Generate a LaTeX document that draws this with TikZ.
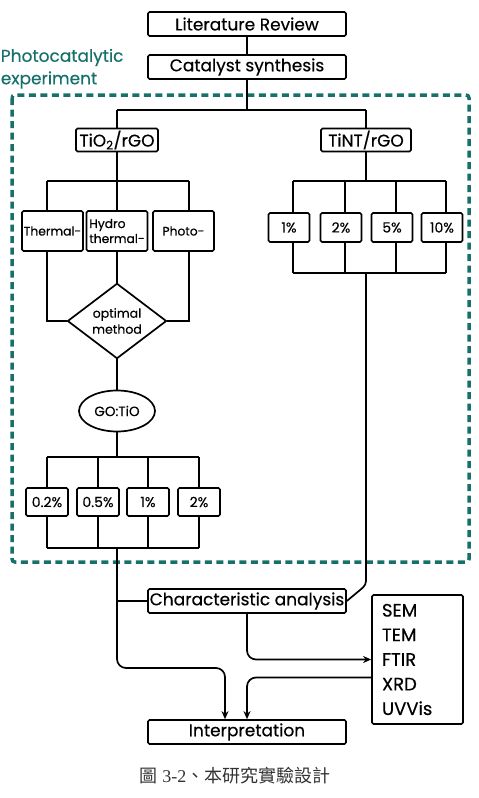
\documentclass[tikz,border=0pt]{standalone}
\usepackage{fontspec}
\setmainfont{Poppins}[FakeBold=0.4]
\newfontfamily\cjk{Noto Sans CJK TC}
\newfontfamily\capfont{Liberation Serif}
\usetikzlibrary{shapes.geometric, arrows.meta}
\definecolor{pcteal}{HTML}{17716B}

\begin{document}
\begin{tikzpicture}[x=1pt, y=-1pt, line width=1.7pt, >={Stealth[length=8pt,width=7pt]},
    mainbox/.style={draw, rounded corners=1.5pt, inner sep=0pt, minimum width=198pt,
      minimum height=24pt, font=\fontsize{17}{17}\selectfont},
    methbox/.style={draw, rounded corners=1.5pt, inner sep=0pt, minimum width=61pt,
      minimum height=40pt, font=\fontsize{12.3}{15}\selectfont},
    pctbox/.style={draw, rounded corners=1.5pt, inner sep=0pt, minimum width=42pt,
      minimum height=28pt, font=\fontsize{14}{14}\selectfont}]
  %tikz  Experimental design, flow chart
    \useasboundingbox (0,0) rectangle (479,798);
    % photocatalytic frame
    \draw[pcteal, line width=3.5pt, dash pattern=on 7pt off 4.5pt, rounded corners=3pt]
      (12,95) rectangle (469,562);
    \node[pcteal, anchor=north west, align=left, inner sep=0pt,
      font=\fontsize{17}{22.5}\selectfont] (frametitle) at (0,48) {Photocatalytic\\experiment};

    \node[mainbox] (lit) at (247,24) {Literature Review};
    \node[mainbox] (cat) at (247,67) {Catalyst synthesis};
    \node[mainbox, minimum width=82pt, minimum height=23pt] (tio) at (117,140) {TiO\textsubscript{2}/rGO};
    \node[mainbox, minimum width=90pt, minimum height=23pt] (tint) at (366,140) {TiNT/rGO};
    \draw (lit) -- (cat);
    \coordinate (split) at (247,110);
    \draw (cat) -- (split) (tio |- split) -- (tint |- split);
    \draw (tio |- split) -- (tio) (tint |- split) -- (tint);

    % TiO2/rGO : synthesis methods
    \node[methbox] (th) at (52.5,231) {Thermal-};
    \node[methbox, align=left] (hy) at (117,231) {Hydro\\thermal-};
    \node[methbox] (ph) at (183.5,231) {Photo-};
    \coordinate (ml) at (47,181);
    \coordinate (mr) at (189,181);
    \draw (tio) -- (tio |- ml) (ml) -- (mr);
    \draw (ml) -- (ml |- th.north) (tio |- ml) -- (hy) (mr) -- (mr |- ph.north);
    \node[diamond, draw, inner sep=0pt, minimum width=99pt, minimum height=67pt, align=center,
      font=\fontsize{12.5}{16}\selectfont] (opt) at (117,321) {optimal\\method};
    \draw (ml |- th.south) -- (ml |- opt) -- (opt.west);
    \draw (mr |- ph.south) -- (mr |- opt) -- (opt.east);
    \draw (hy) -- (opt);
    \node[ellipse, draw, inner sep=0pt, minimum width=76pt, minimum height=41pt,
      font=\fontsize{13.5}{14}\selectfont] (go) at (117,411) {GO:TiO};
    \draw (opt) -- (go);

    % GO:TiO ratios
    \coordinate (gotop) at (0,457);
    \coordinate (gobot) at (0,548);
    \foreach \n/\x/\t in {a/47/0.2\%, b/98/0.5\%, c/148/1\%, d/199/2\%}{
      \node[pctbox] (r\n) at (\x,502) {\t};
      \draw (r\n.north |- gotop) -- (r\n) (r\n) -- (r\n.south |- gobot);
    }
    \draw (go) -- (go |- gotop) (ra |- gotop) -- (rd |- gotop) (ra |- gobot) -- (rd |- gobot);

    % TiNT/rGO ratios
    \coordinate (nttop) at (0,181);
    \coordinate (ntbot) at (0,273);
    \foreach \n/\x/\t in {a/289/1\%, b/341/2\%, c/392/5\%, d/442/10\%}{
      \node[pctbox, minimum width=41pt, minimum height=29pt] (s\n) at (\x,227.5) {\t};
      \path (s\n.north) ++(4,0) coordinate (u\n) (s\n.south) ++(4,0) coordinate (v\n);
      \draw (u\n |- nttop) -- (u\n) (v\n) -- (v\n |- ntbot);
    }
    \draw (tint) -- (tint |- nttop) (ua |- nttop) -- (ud |- nttop) (va |- ntbot) -- (vd |- ntbot);

    % analysis
    \node[mainbox] (cha) at (247,601) {Characteristic analysis};
    \node[mainbox] (interp) at (247,732) {Interpretation};
    \node[draw, rounded corners=1.5pt, inner xsep=10pt, inner ysep=0pt, text width=71pt,
      minimum height=129pt, align=left, font=\fontsize{18}{24.6}\selectfont]
      (tech) at (417.5,659.5) {SEM\\TEM\\FTIR\\XRD\\UVVis};
    \coordinate (bend) at (366,585);
    \coordinate (ia) at (225,668);
    \draw[rounded corners=4pt] (tint |- ntbot) -- (bend) -- (cha.east);
    \draw (go |- cha) -- (cha.west);
    \draw[->, rounded corners=9pt] (go |- gobot) |- (ia) -- (ia |- interp.north);
    \draw[->, rounded corners=9pt] (cha) |- (tech.west);
    \draw[->, rounded corners=9pt] ([yshift=-18pt]tech.west) -| (interp.north);

    \node[text=black!80, font=\fontsize{18}{18}\selectfont] (caption) at (235,776)
      {{\cjk 圖} {\capfont 3-2}{\cjk 、本研究實驗設計}};
  \end{tikzpicture}
\end{document}
